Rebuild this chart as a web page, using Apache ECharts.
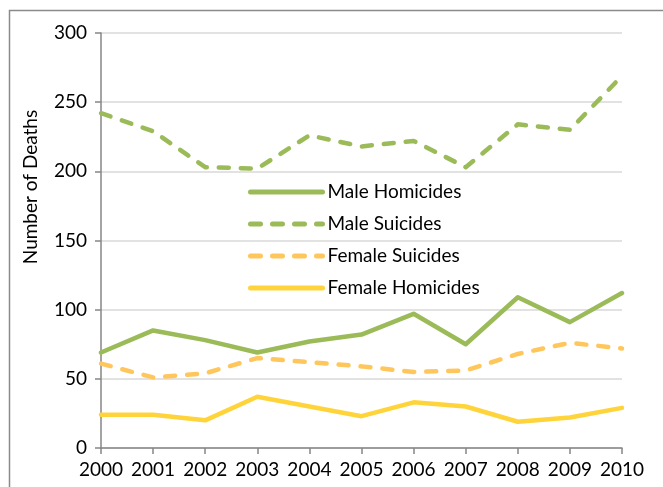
<!DOCTYPE html>
<html><head><meta charset="utf-8">
<script src="https://cdn.jsdelivr.net/npm/echarts@6/dist/echarts.min.js"></script>
<style>html,body{margin:0;padding:0;background:#fff}#c{width:663px;height:487px}</style>
</head><body><div id="c"></div>
<script>
const years = ['2000','2001','2002','2003','2004','2005','2006','2007','2008','2009','2010'];
const maleHomicides = [69, 85, 78, 69, 77, 82, 97, 75, 109, 91, 112];
const maleSuicides = [242, 229, 203, 202, 226, 218, 222, 203, 234, 230, 269];
const femaleSuicides = [61, 51, 54, 65, 62, 59, 55, 56, 68, 76, 72];
const femaleHomicides = [24, 24, 20, 37, 30, 23, 33, 30, 19, 22, 29];
const yTicks = {min: 0, max: 300, interval: 50};
const yTitle = 'Number of Deaths';

const FONT = 'Lato';
const green = '#9BBB59', orange = '#FFC65C', yellow = '#FFD43A';
function mk(name, data, color, dashed) {
  return {
    name, type: 'line', data, symbol: 'none', showSymbol: false, smooth: false,
    lineStyle: {color, width: 4.5, type: dashed ? [10, 12] : 'solid', cap: 'round', join: 'round'},
    itemStyle: {color}
  };
}
const chart = echarts.init(document.getElementById('c'), null, {renderer: 'canvas'});
chart.setOption({
  animation: false,
  backgroundColor: '#fff',
  textStyle: {fontFamily: FONT},
  grid: {left: 101, right: 41, top: 33, bottom: 39},
  graphic: [
    {type: 'rect', left: 7, top: 8, shape: {width: 720, height: 600}, style: {fill: 'none', stroke: '#8a8a8a', lineWidth: 1.5}, silent: true},
    {type: 'text', x: 31, y: 187, rotation: Math.PI / 2, style: {text: yTitle, fontFamily: FONT, fontSize: 19, fill: '#000', align: 'center', verticalAlign: 'middle'}, silent: true}
  ],
  legend: {
    orient: 'vertical', left: 243, top: 177, itemWidth: 72, itemHeight: 14, itemGap: 12,
    itemStyle: {opacity: 0},
    lineStyle: {width: 5, cap: 'round'},
    textStyle: {fontFamily: FONT, fontSize: 19, lineHeight: 20, color: '#000'},
    data: ['Male Homicides', 'Male Suicides', 'Female Suicides', 'Female Homicides']
  },
  xAxis: {
    type: 'category', data: years, boundaryGap: false,
    axisLine: {lineStyle: {color: '#868686', width: 1.5}},
    axisTick: {show: true, length: 6, lineStyle: {color: '#868686', width: 1.5}},
    axisLabel: {fontFamily: FONT, fontSize: 19, color: '#000', margin: 12, interval: 0}
  },
  yAxis: {
    type: 'value', min: yTicks.min, max: yTicks.max, interval: yTicks.interval,
    axisLine: {show: true, lineStyle: {color: '#868686', width: 1.5}},
    axisTick: {show: true, length: 6, lineStyle: {color: '#868686', width: 1.5}},
    axisLabel: {fontFamily: FONT, fontSize: 19, color: '#000', margin: 14},
    splitLine: {lineStyle: {color: '#d9d9d9', width: 1.5}}
  },
  series: [
    mk('Male Homicides', maleHomicides, green, false),
    mk('Male Suicides', maleSuicides, green, true),
    mk('Female Suicides', femaleSuicides, orange, true),
    mk('Female Homicides', femaleHomicides, yellow, false)
  ]
});
</script></body></html>
